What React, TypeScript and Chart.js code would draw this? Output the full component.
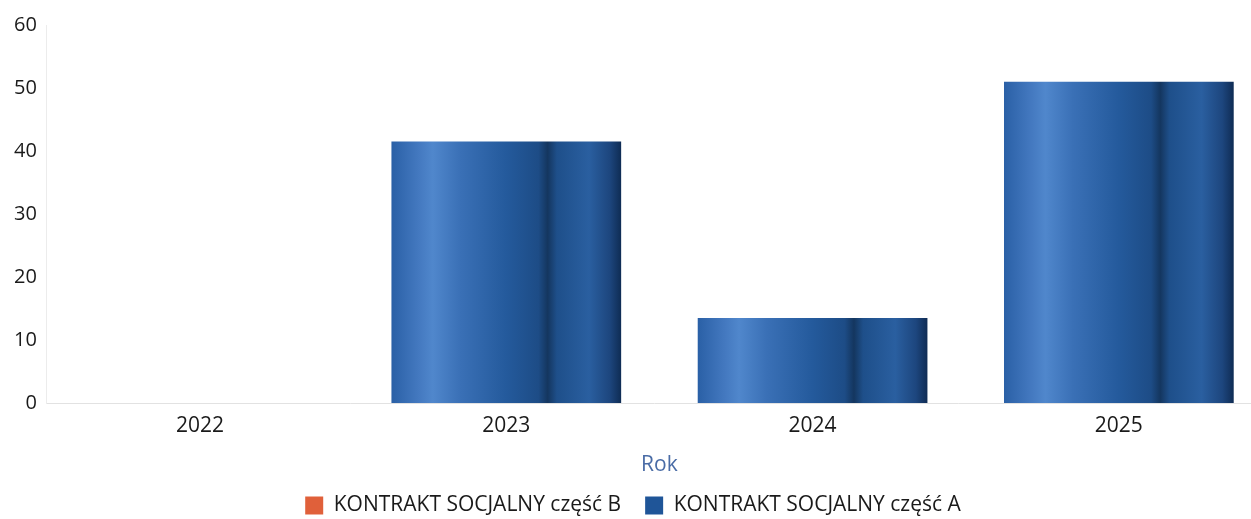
import React, { useEffect, useRef } from "react";
import { Chart, registerables } from "chart.js";

Chart.register(...registerables);

const categories = ["2022", "2023", "2024", "2025"];
const seriesBLabel = "KONTRAKT SOCJALNY część B";
const seriesAValues = [0, 41.5, 13.5, 51];
const seriesBValues = [0, 0, 0, 0];
const seriesALabel = "KONTRAKT SOCJALNY część A";
const yTicks = [0, 10, 20, 30, 40, 50, 60];

const BAR_FRACTION = 0.75;
const PLOT_OVERHANG = 10; // the reference's plot runs slightly past the right edge

function blueGradient(ctx: any) {
  if (ctx.type !== "data") return "#2460a7";
  const chart = ctx.chart;
  const xs = chart.scales.x;
  if (!xs) return "#2460a7";
  const cx = xs.getPixelForValue(ctx.dataIndex);
  const w = (xs.width / categories.length) * BAR_FRACTION;
  const g = chart.ctx.createLinearGradient(cx - w / 2, 0, cx + w / 2, 0);
  g.addColorStop(0, "#2a60a6");
  g.addColorStop(0.12, "#4479c0");
  g.addColorStop(0.18, "#5087cc");
  g.addColorStop(0.3, "#3a70b6");
  g.addColorStop(0.5, "#245a9c");
  g.addColorStop(0.64, "#1d4c86");
  g.addColorStop(0.68, "#14365f");
  g.addColorStop(0.72, "#1e4f8a");
  g.addColorStop(0.86, "#2a5fa0");
  g.addColorStop(0.95, "#1d467e");
  g.addColorStop(1, "#0f2c54");
  return g;
}

function orangeGradient(ctx: any) {
  if (ctx.type !== "data") return "#e0603a";
  const chart = ctx.chart;
  const xs = chart.scales.x;
  if (!xs) return "#e0603a";
  const cx = xs.getPixelForValue(ctx.dataIndex);
  const w = (xs.width / categories.length) * BAR_FRACTION;
  const g = chart.ctx.createLinearGradient(cx - w / 2, 0, cx + w / 2, 0);
  g.addColorStop(0, "#d4502a");
  g.addColorStop(0.2, "#f08a62");
  g.addColorStop(0.6, "#e0603a");
  g.addColorStop(1, "#a8381a");
  return g;
}

const overhangPlugin = {
  id: "overhang",
  afterLayout(chart: any) {
    const xs = chart.scales.x;
    if (!xs) return;
    xs.right += PLOT_OVERHANG;
    xs.width += PLOT_OVERHANG;
    xs.configure();
  },
};

export default function App() {
  const ref = useRef<HTMLCanvasElement | null>(null);

  useEffect(() => {
    document.body.style.margin = "0";
    if (!ref.current) return;
    Chart.defaults.font.family = "'Open Sans', sans-serif";
    const legendColors = ["#e0603a", "#1f5598"];
    const chart = new Chart(ref.current, {
      type: "bar",
      plugins: [overhangPlugin],
      data: {
        labels: categories,
        datasets: [
          {
            label: seriesBLabel,
            data: seriesBValues,
            backgroundColor: orangeGradient as any,
            borderWidth: 0,
          },
          {
            label: seriesALabel,
            data: seriesAValues,
            backgroundColor: blueGradient as any,
            borderWidth: 0,
          },
        ],
      },
      options: {
        animation: false,
        responsive: true,
        maintainAspectRatio: false,
        datasets: {
          bar: { barPercentage: 1, categoryPercentage: BAR_FRACTION },
        },
        layout: { padding: { top: 25, right: 0, left: 4, bottom: -7 } },
        plugins: {
          tooltip: { enabled: false },
          legend: {
            position: "bottom",
            labels: {
              color: "#1a1a1a",
              font: { size: 21 },
              boxWidth: 18,
              boxHeight: 18,
              padding: 24,
              generateLabels: (c: any) =>
                c.data.datasets.map((ds: any, i: number) => ({
                  text: ds.label,
                  fillStyle: legendColors[i],
                  strokeStyle: legendColors[i],
                  lineWidth: 0,
                  hidden: false,
                  datasetIndex: i,
                  fontColor: "#1a1a1a",
                })),
            },
          },
        },
        scales: {
          x: {
            stacked: true,
            grid: { display: false, drawTicks: false },
            border: { display: true, color: "#e2e2e2", width: 1 },
            ticks: { color: "#1a1a1a", font: { size: 21 }, padding: 10.5 },
            title: {
              display: true,
              text: "Rok",
              color: "#4a6ca6",
              font: { size: 21 },
              padding: { top: 3, bottom: -6.5 },
            },
          },
          y: {
            stacked: true,
            min: 0,
            max: 60,
            afterBuildTicks: (s: any) => {
              s.ticks = yTicks.map((v) => ({ value: v }));
            },
            grid: { display: false, drawTicks: false },
            border: { display: true, color: "#ececec", width: 1 },
            ticks: { color: "#1a1a1a", font: { size: 20 }, padding: 10 },
          },
        },
      },
    });
    return () => chart.destroy();
  }, []);

  return (
    <div style={{ position: "relative", width: 1262, height: 519 }}>
      <canvas ref={ref} />
    </div>
  );
}
